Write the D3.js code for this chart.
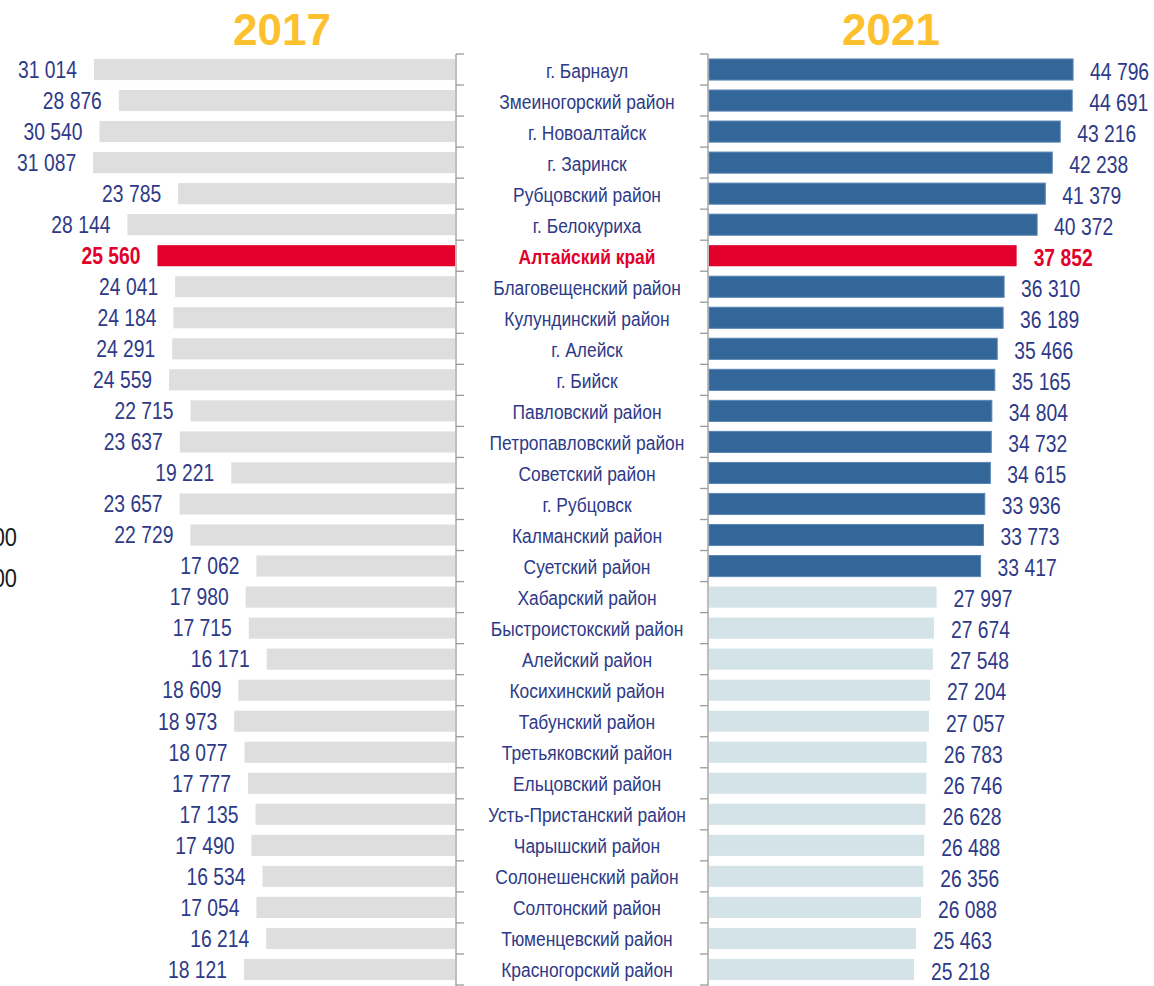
<!DOCTYPE html>
<html>
<head>
<meta charset="utf-8">
<script src="https://cdn.jsdelivr.net/npm/d3@7"></script>
<style>
  body { margin: 0; background: #fff; }
  svg { display: block; }
</style>
</head>
<body>
<svg id="chart" width="1154" height="986"></svg>
<script>
// районы (сверху вниз)
var districts = [
  "г. Барнаул", "Змеиногорский район", "г. Новоалтайск", "г. Заринск",
  "Рубцовский район", "г. Белокуриха", "Алтайский край", "Благовещенский район",
  "Кулундинский район", "г. Алейск", "г. Бийск", "Павловский район",
  "Петропавловский район", "Советский район", "г. Рубцовск", "Калманский район",
  "Суетский район", "Хабарский район", "Быстроистокский район", "Алейский район",
  "Косихинский район", "Табунский район", "Третьяковский район", "Ельцовский район",
  "Усть-Пристанский район", "Чарышский район", "Солонешенский район", "Солтонский район",
  "Тюменцевский район", "Красногорский район"
];
var values2017 = [
  31014, 28876, 30540, 31087, 23785, 28144, 25560, 24041, 24184, 24291,
  24559, 22715, 23637, 19221, 23657, 22729, 17062, 17980, 17715, 16171,
  18609, 18973, 18077, 17777, 17135, 17490, 16534, 17054, 16214, 18121
];
var values2021 = [
  44796, 44691, 43216, 42238, 41379, 40372, 37852, 36310, 36189, 35466,
  35165, 34804, 34732, 34615, 33936, 33773, 33417, 27997, 27674, 27548,
  27204, 27057, 26783, 26746, 26628, 26488, 26356, 26088, 25463, 25218
];
var years = ["2017", "2021"];
var region = "Алтайский край";
var topGroupSize = 17;	// первые 17 строк — тёмно-синие

var svg = d3.select("#chart");
var font = "'Liberation Sans', Arial, sans-serif";
var sx = 0.84;	// сужение шрифта (как Arial Narrow)
var navy = "#2e3a87", red = "#e2002b";
var fmt = function(v){ return d3.format(",")(v).replace(/,/g, " "); };

var rows = districts.map(function(d, i){
  return { name: d, v17: values2017[i], v21: values2021[i], i: i };
});

var y = d3.scaleBand().domain(districts).range([54, 985])
  .paddingInner(0.32).paddingOuter(0.16);
var xL = d3.scaleLinear().domain([0, 39000]).range([455, 1]);	// 2017 — влево
var xR = d3.scaleLinear().domain([0, 55000]).range([709, 1156]);	// 2021 — вправо
var axisL = 456, axisR = 708;

function at(x, y, s){ return "translate(" + x + "," + y + ") scale(" + (s || sx) + ",1)"; }

// обрезанные фрагменты с левого края
svg.selectAll("text.stray").data([537, 578]).enter().append("text")
  .attr("transform", function(d){ return at(17, d); })
  .attr("dy", "0.35em").attr("text-anchor", "end")
  .style("font-family", font).style("font-size", "26px").style("fill", "#1a1a1a")
  .text("00");

// заголовки
svg.selectAll("text.year").data(years).enter().append("text")
  .attr("x", function(d, i){ return i === 0 ? 282 : 891; })
  .attr("y", 45)
  .attr("text-anchor", "middle")
  .style("font-family", font)
  .style("font-weight", "bold").style("font-size", "44px").style("fill", "#fdc02e")
  .text(function(d){ return d; });

// бары 2017
svg.selectAll("rect.l").data(rows).enter().append("rect")
  .attr("x", function(d){ return xL(d.v17); })
  .attr("y", function(d){ return y(d.name); })
  .attr("width", function(d){ return xL(0) - xL(d.v17); })
  .attr("height", y.bandwidth())
  .attr("fill", function(d){ return d.name === region ? red : "#dedede"; });

// бары 2021
svg.selectAll("rect.r").data(rows).enter().append("rect")
  .attr("x", xR(0))
  .attr("y", function(d){ return y(d.name); })
  .attr("width", function(d){ return xR(d.v21) - xR(0); })
  .attr("height", y.bandwidth())
  .attr("fill", function(d){
    if (d.name === region) return red;
    return d.i < topGroupSize ? "#336699" : "#d4e3e8";
  })
  .attr("stroke", function(d){
    if (d.name === region) return "none";
    return d.i < topGroupSize ? "#5a86b4" : "none";
  })
  .attr("stroke-width", 1);

// оси с засечками
var ticks = d3.range(districts.length + 1).map(function(k){ return 54 + k * y.step(); });
[[axisL, 8], [axisR, -8]].forEach(function(a){
  svg.append("line").attr("x1", a[0]).attr("x2", a[0]).attr("y1", 54).attr("y2", 986)
    .attr("stroke", "#9a9a9a").attr("stroke-width", 1.3);
  svg.selectAll(null).data(ticks).enter().append("line")
    .attr("x1", a[0]).attr("x2", a[0] + a[1])
    .attr("y1", function(d){ return d; }).attr("y2", function(d){ return d; })
    .attr("stroke", "#9a9a9a").attr("stroke-width", 1.3);
});

// подписи значений 2017
svg.selectAll("text.vl").data(rows).enter().append("text")
  .attr("transform", function(d){ return at(xL(d.v17) - 17, y(d.name) + y.bandwidth() / 2); })
  .attr("dy", "0.36em").attr("text-anchor", "end")
  .style("font-family", font).style("font-size", "23px")
  .style("font-weight", function(d){ return d.name === region ? "bold" : "normal"; })
  .style("fill", function(d){ return d.name === region ? red : navy; })
  .text(function(d){ return fmt(d.v17); });

// подписи значений 2021
svg.selectAll("text.vr").data(rows).enter().append("text")
  .attr("transform", function(d){ return at(xR(d.v21) + 17, y(d.name) + y.bandwidth() / 2 + 2); })
  .attr("dy", "0.36em").attr("text-anchor", "start")
  .style("font-family", font).style("font-size", "23px")
  .style("font-weight", function(d){ return d.name === region ? "bold" : "normal"; })
  .style("fill", function(d){ return d.name === region ? red : navy; })
  .text(function(d){ return fmt(d.v21); });

// названия
svg.selectAll("text.cat").data(rows).enter().append("text")
  .attr("transform", function(d){ return at(587, y(d.name) + y.bandwidth() / 2 + 1, 0.87); })
  .attr("dy", "0.35em").attr("text-anchor", "middle")
  .style("font-family", font).style("font-size", "20px")
  .style("font-weight", function(d){ return d.name === region ? "bold" : "normal"; })
  .style("fill", function(d){ return d.name === region ? red : navy; })
  .text(function(d){ return d.name; });
</script>
</body>
</html>
